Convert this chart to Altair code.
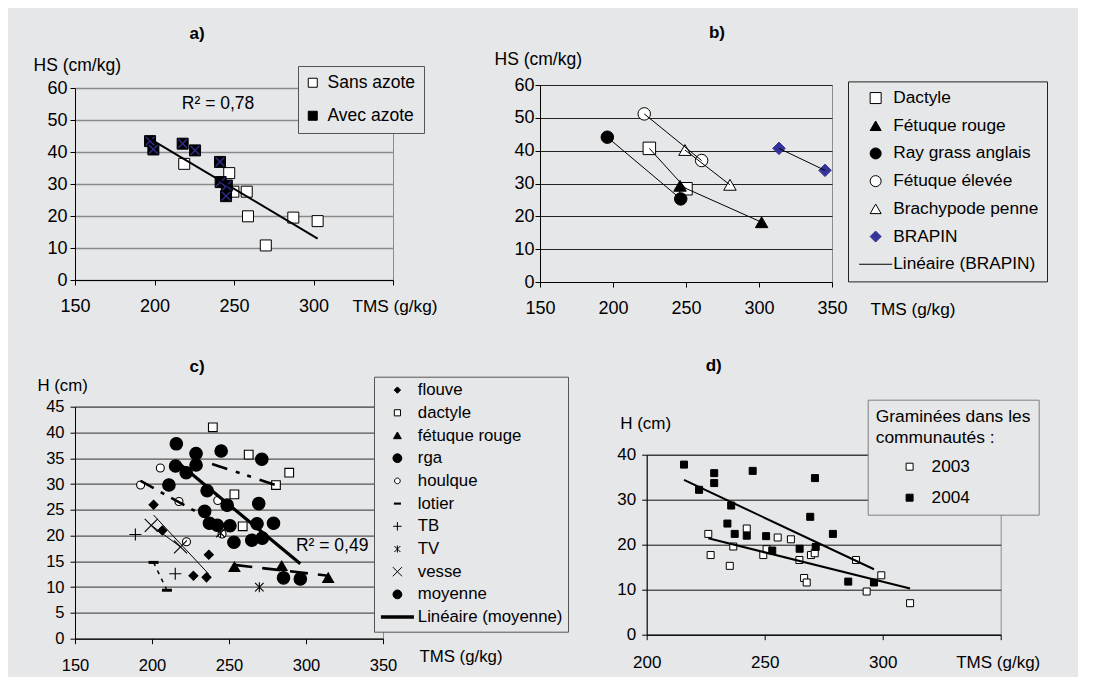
import altair as alt
import pandas as pd

FONT = "Liberation Sans"
BG = "#e6e7e9"
FRAME = "#8c8c8c"

# ================= data =================
# a)
a_series = ["Sans azote", "Avec azote"]
a_sans_tms = [218.7, 247.0, 249.6, 258.0, 258.8, 270.0, 287.3, 302.6]
a_sans_hs = [36.3, 33.4, 27.6, 27.6, 19.9, 10.8, 19.5, 18.4]
a_avec_tms = [197.2, 199.3, 217.7, 225.5, 241.2, 241.6, 245.5, 245.0]
a_avec_hs = [43.4, 40.8, 42.6, 40.5, 36.9, 30.6, 29.5, 26.2]
a_x_ticks = [150, 200, 250, 300, 350]
a_y_ticks = [0, 10, 20, 30, 40, 50, 60]
a_r2_label = ["R² = 0,78"]
a_r2_tms = [240]
a_r2_hs = [55]

# b)
b_series = ["Dactyle", "Fétuque rouge", "Ray grass anglais", "Fétuque élevée",
            "Brachypode penne", "BRAPIN", "Linéaire (BRAPIN)"]
b_dactyle_tms = [224.9, 250.0]
b_dactyle_hs = [40.7, 28.4]
b_fetrouge_tms = [245.9, 301.8]
b_fetrouge_hs = [29.3, 18.2]
b_rga_tms = [196.1, 246.4]
b_rga_hs = [44.1, 25.3]
b_fetelev_tms = [221.4, 260.7]
b_fetelev_hs = [51.2, 37.0]
b_brachy_tms = [249.3, 280.1]
b_brachy_hs = [40.2, 29.6]
b_brapin_tms = [313.7, 345.2]
b_brapin_hs = [40.7, 34.0]
b_x_ticks = [150, 200, 250, 300, 350]
b_y_ticks = [0, 10, 20, 30, 40, 50, 60]

# d) (the 2004 communities are also the "moyenne" points of c)
d_series = ["2003", "2004"]
d_2003_tms = [226.1, 227.1, 235.2, 236.7, 242.4, 249.4, 250.8, 255.5, 261.1,
              264.7, 266.7, 267.8, 269.6, 271.2, 288.7, 299.4, 293.2, 311.6]
d_2003_h = [22.4, 17.7, 15.3, 19.6, 23.6, 17.7, 19.0, 21.6, 21.2,
            16.6, 12.6, 11.6, 17.7, 18.1, 16.6, 13.2, 9.6, 7.0]
d_2004_tms = [215.8, 222.2, 228.6, 228.6, 235.8, 234.2, 237.3, 242.4, 244.9,
              250.6, 253.2, 264.8, 269.3, 271.3, 271.6, 278.9, 285.4, 296.3]
d_2004_h = [37.8, 32.2, 35.9, 33.7, 28.7, 24.7, 22.4, 22.0, 36.4,
            21.9, 18.7, 19.1, 26.2, 34.8, 19.5, 22.4, 11.8, 11.6]
d_x_ticks = [200, 250, 300, 350]
d_y_ticks = [0, 10, 20, 30, 40]

# c)
c_series = ["flouve", "dactyle", "fétuque rouge", "rga", "houlque", "lotier",
            "TB", "TV", "vesse", "moyenne", "Linéaire (moyenne)"]
c_flouve_tms = [201.0, 206.7, 236.9, 226.9, 235.4]
c_flouve_h = [26.0, 21.0, 16.3, 12.2, 11.9]
c_dactyle_tms = [239.5, 262.8, 253.5, 258.9, 289.1, 280.5]
c_dactyle_h = [41.0, 35.7, 28.0, 21.8, 32.2, 29.8]
c_fetrouge_tms = [253.5, 284.2, 314.4]
c_fetrouge_h = [13.9, 14.1, 11.8]
c_rga_tms = [215.3, 211.0, 248.8, 268.2]
c_rga_h = [33.5, 29.8, 25.9, 22.3]
c_houlque_tms = [192.6, 205.4, 217.5, 222.4, 242.7, 245.5]
c_houlque_h = [29.8, 33.1, 26.6, 18.8, 26.8, 20.3]
c_lotier_tms = [201.0, 209.7]
c_lotier_h = [14.8, 9.4]
c_tb_tms = [189.2, 215.1]
c_tb_h = [20.2, 12.6]
c_tv_tms = [244.5, 269.7]
c_tv_h = [20.5, 10.0]
c_vesse_tms = [199.5, 218.5]
c_vesse_h = [22.0, 17.8]
c_moyenne_tms = d_2004_tms
c_moyenne_h = d_2004_h
c_x_ticks = [150, 200, 250, 300, 350]
c_y_ticks = [0, 5, 10, 15, 20, 25, 30, 35, 40, 45]
c_r2_label = ["R² = 0,49"]
c_r2_tms = [317]
c_r2_h = [18]


def table(groups, xname, yname):
    rows = []
    for name, xs, ys in groups:
        for x, y in zip(xs, ys):
            rows.append({xname: x, yname: y, "serie": name})
    return pd.DataFrame(rows)


def x_axis(values, size, label_off, title_x, title_y, title_size, hide_last=False):
    kw = dict(values=values, grid=False, title="TMS (g/kg)", titleX=title_x, titleY=title_y,
              titleAngle=0, titleAlign="left", titleBaseline="middle", titleFont=FONT,
              titleFontSize=title_size, titleFontWeight="normal", titleColor="black",
              labelFont=FONT, labelFontSize=size, labelColor="black", labelBaseline="middle",
              labelPadding=label_off - 5, labelFlush=False, labelOverlap=False,
              domainColor="black", tickColor="black", tickSize=5)
    if hide_last:
        kw["labelExpr"] = "datum.value == 350 ? '' : datum.label"
    return alt.Axis(**kw)


def y_axis(values, title, size, title_size, label_pad, title_x, title_y, grid_color, grid_width):
    return alt.Axis(values=values, grid=True, gridColor=grid_color, gridWidth=grid_width,
                    title=title, titleX=title_x, titleY=title_y, titleAngle=0,
                    titleAlign="left", titleBaseline="middle", titleFont=FONT,
                    titleFontSize=title_size, titleFontWeight="normal", titleColor="black",
                    labelFont=FONT, labelFontSize=size, labelColor="black",
                    labelPadding=label_pad, labelFlush=False, labelOverlap=False,
                    domainColor="black", tickColor="black", tickSize=5)


def legend(x, y, pad, row_pad, size, stroke, label_off, sym_size, sym_off=0, title=None, **extra):
    kw = dict(orient="none", legendX=x, legendY=y, direction="vertical", padding=pad,
              rowPadding=row_pad, labelFont=FONT, labelFontSize=size, labelColor="black",
              strokeColor=stroke, fillColor=BG, labelOffset=label_off, symbolOffset=sym_off,
              symbolSize=sym_size, symbolStrokeWidth=1, labelLimit=400)
    kw["title"] = title
    kw.update(extra)
    return alt.Legend(**kw)


def points(df, xdef, ydef, domain, shapes, fills, strokes, leg, size, width):
    def sc(rng):
        return alt.Scale(domain=domain, range=rng)
    return alt.Chart(df).mark_point(opacity=1, size=size, strokeWidth=width).encode(
        x=xdef, y=ydef,
        shape=alt.Shape("serie:N", scale=sc(shapes), legend=leg),
        fill=alt.Fill("serie:N", scale=sc(fills), legend=leg),
        stroke=alt.Stroke("serie:N", scale=sc(strokes), legend=leg),
    )


def independent(ch):
    return ch.resolve_scale(shape="independent", fill="independent",
                            stroke="independent").resolve_legend(
        shape="independent", fill="independent", stroke="independent")


def spacer(w, h):
    return alt.Chart(pd.DataFrame({"s": [0]})).mark_point(opacity=0).properties(
        width=w, height=h, view=alt.ViewBackground(stroke="transparent"))


def title(text, dx, offset):
    return alt.TitleParams(text, font=FONT, fontSize=17, fontWeight="bold", color="black",
                           anchor="middle", frame="group", dx=dx, offset=offset)


# ================= a) =================
a_df = table([("Sans azote", a_sans_tms, a_sans_hs), ("Avec azote", a_avec_tms, a_avec_hs)], "tms", "hs")
a_x = alt.X("tms:Q", scale=alt.Scale(domain=[150, 350], nice=False),
            axis=x_axis(a_x_ticks, 18, 26.5, 277, 26, 17.2, hide_last=True))
a_y = alt.Y("hs:Q", scale=alt.Scale(domain=[0, 60], nice=False),
            axis=y_axis(a_y_ticks, "HS (cm/kg)", 18, 17.5, 3, -42, -23, "#8a8a8a", 1.5))
a_leg = legend(223, -22, 8, 14, 17.5, "#555555", 6, 81, -2,
               labelExpr="datum.label + '\u00a0\u00a0\u00a0\u00a0\u00a0'")
a_pts = points(a_df, a_x, a_y, a_series, ["square", "square"], ["white", "black"],
               ["black", "black"], a_leg, 121, 1)
a_cross = alt.Chart(a_df).transform_filter(alt.datum.serie == "Avec azote").mark_point(
    shape="M-0.8,-0.8L0.8,0.8M-0.8,0.8L0.8,-0.8", size=121, stroke="#2c2c8a",
    strokeWidth=1.5, opacity=1).encode(x=a_x, y=a_y)
a_fit = alt.Chart(a_df).transform_regression("tms", "hs").mark_line(
    color="black", strokeWidth=2).encode(x=a_x, y=a_y)
a_txt = alt.Chart(pd.DataFrame({"tms": a_r2_tms, "hs": a_r2_hs, "t": a_r2_label})).mark_text(
    font=FONT, fontSize=17.5, color="black").encode(x=a_x, y=a_y, text="t:N")
panel_a = alt.layer(a_pts, a_cross, a_fit, a_txt).properties(
    width=318, height=192, title=title("a)", -37, 12.7))

# ================= b) =================
b_df = table([("Dactyle", b_dactyle_tms, b_dactyle_hs),
              ("Fétuque rouge", b_fetrouge_tms, b_fetrouge_hs),
              ("Ray grass anglais", b_rga_tms, b_rga_hs),
              ("Fétuque élevée", b_fetelev_tms, b_fetelev_hs),
              ("Brachypode penne", b_brachy_tms, b_brachy_hs),
              ("BRAPIN", b_brapin_tms, b_brapin_hs)], "tms", "hs")
b_x = alt.X("tms:Q", scale=alt.Scale(domain=[150, 350], nice=False),
            axis=x_axis(b_x_ticks, 18, 26.6, 330, 27.5, 17.2))
b_y = alt.Y("hs:Q", scale=alt.Scale(domain=[0, 60], nice=False),
            axis=y_axis(b_y_ticks, "HS (cm/kg)", 18, 17.5, 1, -46, -26, "#222222", 1))
b_leg = legend(308, -3.6, 8, 9.7, 17.3, "#222222", 8.9, 121, 11)
b_pts = points(b_df, b_x, b_y, b_series,
               ["square", "triangle-up", "circle", "circle", "triangle-up", "diamond", "M-3,0H3"],
               ["white", "black", "black", "white", "white", "#333399", "transparent"],
               ["black", "black", "black", "black", "black", "#333399", "black"],
               b_leg, 156, 1)
b_lines = alt.Chart(b_df).mark_line(color="black", strokeWidth=1).encode(
    x=b_x, y=b_y, detail="serie:N")
panel_b = alt.layer(b_pts, b_lines).properties(
    width=292, height=197, title=title("b)", 31, 8.3))

# ================= c) =================
c_df = table([("flouve", c_flouve_tms, c_flouve_h),
              ("dactyle", c_dactyle_tms, c_dactyle_h),
              ("fétuque rouge", c_fetrouge_tms, c_fetrouge_h),
              ("rga", c_rga_tms, c_rga_h),
              ("houlque", c_houlque_tms, c_houlque_h),
              ("lotier", c_lotier_tms, c_lotier_h),
              ("TB", c_tb_tms, c_tb_h),
              ("TV", c_tv_tms, c_tv_h),
              ("vesse", c_vesse_tms, c_vesse_h),
              ("moyenne", c_moyenne_tms, c_moyenne_h)], "tms", "h")
c_x = alt.X("tms:Q", scale=alt.Scale(domain=[150, 350], nice=False),
            axis=x_axis(c_x_ticks, 16.5, 26.7, 344, 17.5, 16.8))
c_y = alt.Y("h:Q", scale=alt.Scale(domain=[0, 45], nice=False),
            axis=y_axis(c_y_ticks, "H (cm)", 16.5, 16.8, 6, -38, -21, "#555555", 1.2))
c_leg = legend(299, -30, 5, 4.7, 16.8, "#555555", 12, 50, 10)
CIRC_BIG = "M1.25,0A1.25,1.25 0 1,1 -1.25,0A1.25,1.25 0 1,1 1.25,0Z"
CIRC_SMALL = "M0.8,0A0.8,0.8 0 1,1 -0.8,0A0.8,0.8 0 1,1 0.8,0Z"
c_shapes = ["M0,-0.9L0.9,0L0,0.9L-0.9,0Z",            # flouve
            "M-0.87,-0.87H0.87V0.87H-0.87Z",          # dactyle
            "M0,-1L1.1,0.9H-1.1Z",                    # fétuque rouge
            CIRC_BIG,                                 # rga
            CIRC_SMALL,                               # houlque
            "M-1,-0.3H1V0.3H-1Z",                     # lotier
            "M-1.2,0H1.2M0,-1.2V1.2",                 # TB
            "M0,-1V1M-0.85,-0.85L0.85,0.85M-0.85,0.85L0.85,-0.85",  # TV
            "M-1.3,-1.3L1.3,1.3M-1.3,1.3L1.3,-1.3",   # vesse
            CIRC_BIG,                                 # moyenne
            "M-4.67,-0.5H4.67V0.5H-4.67Z"]            # Linéaire (moyenne)
c_fills = ["black", "white", "black", "black", "white", "black", "transparent",
           "transparent", "transparent", "black", "black"]
c_strokes = ["black", "black", "black", "black", "black", "transparent", "black",
             "black", "black", "black", "transparent"]
c_pts = points(c_df, c_x, c_y, c_series, c_shapes, c_fills, c_strokes, c_leg, 100, 1.1)


def c_trend(name, width, dash=None, extent=None):
    ch = alt.Chart(c_df).transform_filter(alt.datum.serie == name)
    if extent:
        ch = ch.transform_regression("tms", "h", extent=extent)
    else:
        ch = ch.transform_regression("tms", "h")
    kw = dict(color="black", strokeWidth=width)
    if dash:
        kw["strokeDash"] = dash
    return ch.mark_line(**kw).encode(x=c_x, y=c_y)


c_lines = [
    c_trend("moyenne", 3.2),
    c_trend("dactyle", 2.6, [16, 9, 4, 8, 4, 9], [239, 280]),
    c_trend("houlque", 2.6, [15, 8, 4, 8]),
    c_trend("fétuque rouge", 2.6, [18, 10]),
    c_trend("flouve", 1),
    c_trend("lotier", 1.5, [4, 5]),
    c_trend("vesse", 1),
]
c_txt = alt.Chart(pd.DataFrame({"tms": c_r2_tms, "h": c_r2_h, "t": c_r2_label})).mark_text(
    font=FONT, fontSize=17.5, color="black").encode(x=c_x, y=c_y, text="t:N")
panel_c = alt.layer(c_pts, *c_lines, c_txt).properties(
    width=308, height=232, title=title("c)", -32, 0))

# ================= d) =================
d_df = table([("2003", d_2003_tms, d_2003_h), ("2004", d_2004_tms, d_2004_h)], "tms", "h")
d_x = alt.X("tms:Q", scale=alt.Scale(domain=[200, 350], nice=False),
            axis=x_axis(d_x_ticks, 17, 27.3, 309, 28, 17, hide_last=True))
d_y = alt.Y("h:Q", scale=alt.Scale(domain=[0, 40], nice=False),
            axis=y_axis(d_y_ticks, "H (cm)", 17, 17, 6, -27, -31, "#111111", 1))
d_leg = legend(221, -55, 8, 13, 17.2, "#808080", 13.4, 49, 25.3,
               title=["Graminées dans les", "communautés :"],
               titleFont=FONT, titleFontSize=17.4, titleFontWeight="normal",
               titleColor="black", titleLineHeight=21, titlePadding=12)
d_pts = points(d_df, d_x, d_y, d_series, ["square", "square"], ["white", "black"],
               ["black", "black"], d_leg, 49, 1)
d_fit = alt.Chart(d_df).transform_regression("tms", "h", groupby=["serie"]).mark_line(
    color="black", strokeWidth=2).encode(x=d_x, y=d_y, detail="serie:N")
panel_d = alt.layer(d_pts, d_fit).properties(
    width=354, height=180, title=title("d)", -110, 24))

col_a = independent(alt.vconcat(spacer(318, 3), panel_a, spacing=0, bounds="flush"))
col_d = independent(alt.vconcat(spacer(354, 48), panel_d, spacing=0, bounds="flush"))
row1 = independent(alt.hconcat(col_a, panel_b, spacing=55))
row2 = independent(alt.hconcat(panel_c, col_d, spacing=46.7))
chart = independent(alt.vconcat(row1, row2, spacing=37.7)).properties(
    background=BG,
    padding={"left": 24, "top": 15, "right": 30, "bottom": 2},
).configure(font=FONT).configure_view(stroke=FRAME, strokeWidth=1)

chart.save("out.html", embed_options={"renderer": "svg", "actions": False})
